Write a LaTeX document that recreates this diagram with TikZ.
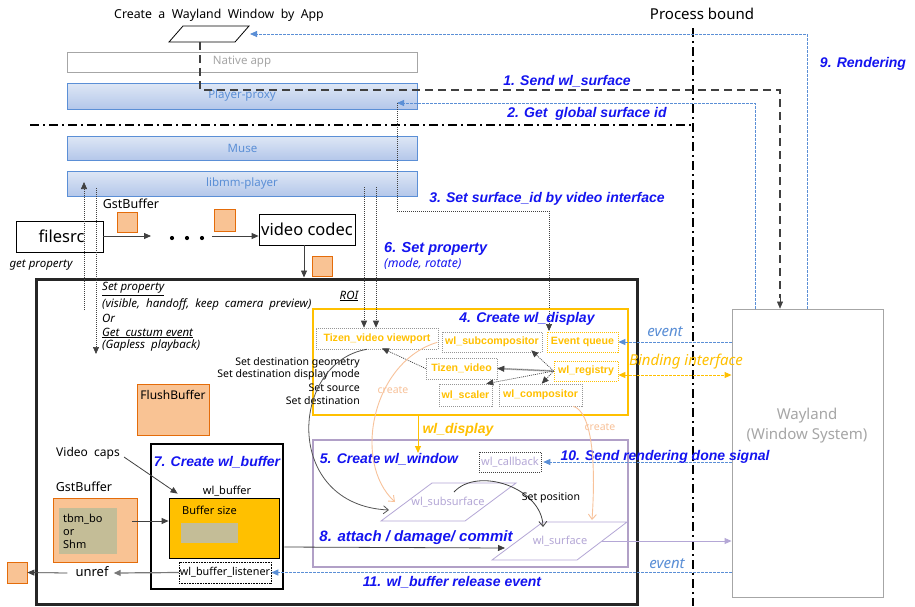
\documentclass[tikz,border=0pt]{standalone}
\usepackage{fontspec}
\setmainfont{Noto Sans}
\newfontfamily\lblf{Liberation Sans}
\usetikzlibrary{arrows.meta,calc}
\definecolor{blueline}{HTML}{5B8FD6}
\definecolor{bluetxt}{HTML}{1414F0}
\definecolor{ylw}{HTML}{FFC000}
\definecolor{peach}{HTML}{F9C394}
\definecolor{peachline}{HTML}{F8C29A}
\definecolor{orng}{HTML}{E46C0A}
\definecolor{purp}{HTML}{B1A0C7}
\definecolor{purptxt}{HTML}{B4A7D6}
\definecolor{tanc}{HTML}{C4BD97}
\definecolor{grayb}{HTML}{A6A6A6}
\definecolor{dgray}{HTML}{404040}
\definecolor{mgray}{HTML}{969696}
\definecolor{lgray}{HTML}{BEBEBE}
\definecolor{cgray}{HTML}{555555}
\definecolor{ugray}{HTML}{787878}
\definecolor{boxblk}{HTML}{262626}
\definecolor{projtop}{HTML}{DEE7F5}
\definecolor{projbot}{HTML}{B4C7EA}
\tikzset{
  fs/.style={font=\fontsize{#1}{#1}\selectfont},
  tip/.style={-{Triangle[length=7pt,width=6pt]}},
  layer/.style={draw=blueline, line width=0.9pt, top color=projtop, bottom color=projbot,
    text=blueline, fs=11.5, inner sep=0, minimum width=350, minimum height=25},
  sq/.style={draw=orng, fill=peach, minimum width=20, minimum height=20, inner sep=0, line width=0.8pt},
  plain/.style={draw=black, line width=0.8pt, inner sep=0},
  gbox/.style={draw=mgray, dash pattern=on 1pt off 1pt, line width=0.6pt,
    inner sep=0, text=ylw, font=\lblf\fontsize{10.6}{10.6}\selectfont\bfseries},
  obox/.style={draw=ylw, dash pattern=on 1pt off 1pt, line width=0.7pt, inner sep=0, text=ylw,
    font=\lblf\fontsize{10.6}{10.6}\selectfont\bfseries},
  lbl/.style={text=bluetxt, font=\lblf\fontsize{14}{14}\selectfont\bfseries\itshape, inner sep=0},
  bdash/.style={draw=dgray, line width=2pt, dash pattern=on 8pt off 5pt},
  bluedash/.style={draw=blueline, line width=0.8pt, dash pattern=on 2.5pt off 1.5pt},
  gdot/.style={draw=dgray, line width=0.7pt, dash pattern=on 1pt off 1pt},
  procline/.style={draw=black, line width=2.5pt, dash pattern=on 9pt off 4pt on 2pt off 4pt},
  small/.style={fs=10.5, inner sep=0},
  itl/.style={font=\fontsize{11.5}{11.5}\selectfont\itshape, inner sep=0},
  evt/.style={text=blueline, font=\fontsize{15}{15}\selectfont\itshape, inner sep=0},
}
\begin{document}
\begin{tikzpicture}[x=1pt,y=-1pt]
\useasboundingbox (0,0) rectangle (915,606);
\fill[white] (0,0) rectangle (915,606);

% process boundary
\draw[procline] (30,125) -- (693,125);
\draw[procline] (693,28) -- (693,606);
\node[fs=15, inner sep=0] (pb) at (702,14) {Process bound};

% top app window
\node[fs=12.3, inner sep=0] (title) at (219,15) {Create~ a~ Wayland~ Window~ by~ App};
\draw[line width=0.8pt] (169,42) -- (183,26) -- (249,26) -- (235,42) -- cycle;
\coordinate (parbot) at (200,42);
\coordinate (parR) at (250,34);

% layers
\node[draw=grayb, line width=0.9pt, fill=white, text=grayb, fs=11.5, inner sep=0, minimum width=350, minimum height=20] (native) at (242,62) {Native app};
\node[layer, minimum height=26] (proxy) at (242,96) {Player-proxy};
\node[layer, minimum height=24] (muse) at (242.5,148) {Muse};
\node[layer] (libmm) at (242,183.5) {libmm-player};
\coordinate (ppsid) at (397,103);

% wayland
\node[draw=grayb, line width=0.9pt, minimum width=151, minimum height=288, inner sep=0] (wayland) at (807.5,453) {};
\node[text=grayb, align=center, inner sep=0, font=\fontsize{15}{20}\selectfont] (wltxt) at (807,426) {Wayland\\(Window System)};

% top connectors
\draw[bdash] (parbot) -- (200,90) -- (780,90) -- (780,298);
\draw[dgray, tip] (780,298) -- (780,0 |- wayland.north);
\draw[bluedash, tip] (807,0 |- wayland.north) -- (807,34) -- (parR);
\draw[bluedash, tip] (755,0 |- wayland.north) -- (755,103) -- (ppsid);
\draw[gdot, tip] (ppsid) -- (397,211) -- (549,211) -- (549,331);
\node[lbl] (l9) at (863,64) {9. Rendering};
\node[lbl] (l1) at (567,81) {1. Send wl\_surface};
\node[lbl] (l2) at (587,114) {2. Get~ global surface id};
\node[lbl] (l3) at (547,199) {3. Set surface\_id by video interface};
\node[lbl, font=\lblf\fontsize{14.5}{14.5}\selectfont\bfseries\itshape, anchor=west] (l6) at (384,249) {6. Set property};
\node[text=bluetxt, font=\fontsize{12.3}{12.3}\selectfont\itshape, inner sep=0, anchor=west] (l6b) at (384,264) {(mode, rotate)};

% pipeline
\node[fs=12.5, inner sep=0] (gst1) at (131,204) {GstBuffer};
\node[plain, minimum width=87, minimum height=31, fs=16.5] (filesrc) at (59.5,236.5) {~filesrc};
\node[sq] (sq1) at (127,222) {};
\node[sq, minimum width=21, minimum height=22] (sq2) at (224.5,220) {};
\node[plain, minimum width=96, minimum height=31, fs=16.5] (codec) at (307,229.5) {video codec};
\node[sq] (sq3) at (322,266) {};
\coordinate (dotsL) at (151,236);
\coordinate (dotsR) at (212,236);
\fill (172,238) circle (2.1) (187,238) circle (2.1) (202,238) circle (2.1);
\draw[dgray, line width=0.8pt, tip] (filesrc.east |- dotsL) -- (dotsL);
\draw[dgray, line width=0.8pt, tip] (dotsR) -- (codec.west |- dotsR);
\node[itl] (getp) at (41,265) {get property};

% big box
\node[draw=boxblk, line width=3pt, minimum width=601, minimum height=325, inner sep=0] (big) at (336.5,441.5) {};
\draw[dgray, line width=0.8pt, tip] (304,0 |- codec.south) -- (304,0 |- big.north);

% left dotted arrows
\draw[gdot, tip] (84,310) -- (84,182);
\draw[gdot, tip] (96,188) -- (96,354);

\node[itl, anchor=west] (sp1) at (102,289) {\underline{Set property}};
\node[itl, anchor=west] (sp2) at (102,304) {(visible,~ handoff,~ keep~ camera~ preview)};
\node[itl, anchor=west] (sp3) at (102,318) {Or};
\node[itl, anchor=west] (sp4) at (102,333) {\underline{Get~ custum event}};
\node[itl, anchor=west] (sp5) at (102,346) {(Gapless~ playback)};
\node[itl] (roi) at (349,296) {\underline{ROI}};

% wl_display box
\node[draw=ylw, line width=2pt, minimum width=315, minimum height=106, inner sep=0] (ybox) at (470.5,362) {};
\node[lbl] (l4) at (527,319) {4. Create wl\_display};
\node[gbox, minimum width=122, minimum height=21] (viewport) at (377,338.5) {Tizen\_video viewport};
\node[gbox, minimum width=100, minimum height=20] (subcomp) at (492,342) {wl\_subcompositor};
\node[obox, minimum width=71, minimum height=20] (evq) at (582.5,342) {Event queue};
\node[gbox, minimum width=71, minimum height=21] (tizen) at (461.5,368.5) {Tizen\_video};
\node[obox, minimum width=64, minimum height=20] (registry) at (586,371) {wl\_registry};
\node[gbox, minimum width=53, minimum height=22] (scaler) at (465.5,395) {wl\_scaler};
\node[gbox, minimum width=83, minimum height=22] (compositor) at (540.5,395) {wl\_compositor};

\draw[gdot, tip] (364,187) -- (364,0 |- viewport.north);
\draw[gdot, tip] (376,187) -- (376,0 |- viewport.north);

\draw[gdot, tip] (registry.west) -- ($(subcomp.south east)+(-11,-2)$);
\draw[lgray, line width=1.8pt] (registry.west) -- (tizen.east);
\draw[gdot, tip] (registry.west) -- (tizen.east);
\draw[gdot, tip] (registry.west) -- ($(scaler.north east)+(-6,0)$);
\draw[gdot, tip] (registry.west) -- ($(compositor.north west)+(43,0)$);
\draw[gdot, tip] (tizen.west) -- ($(viewport.south)+(5,-1)$);

\node[small, anchor=east] (sd1) at (360,363) {Set destination geometry};
\node[small, anchor=east] (sd2) at (360,375) {Set destination display mode};
\node[small, anchor=east] (sd3) at (360,388) {Set source};
\node[small, anchor=east] (sd4) at (360,401) {Set destination};

% event / binding
\draw[bluedash, tip] (wayland.west |- evq.east) -- (evq.east);
\node[evt] (ev1) at (665,332) {event};
\draw[ylw, line width=0.9pt, dash pattern=on 2.5pt off 1.5pt, {Triangle[length=7pt,width=6pt]}-{Triangle[length=7pt,width=6pt]}] ($(registry.east)+(0,4)$) -- (wayland.west |- 0,375);
\node[text=ylw, font=\fontsize{15}{15}\selectfont\itshape, inner sep=0] (bind) at (686,362) {Binding interface};

% wl_window box
\node[draw=purp, line width=2pt, minimum width=315, minimum height=127, inner sep=0] (pbox) at (470.5,503.5) {};
\coordinate (wdtip) at (418,453);
\draw[ylw, line width=1pt, tip] (418,0 |- ybox.south) -- (wdtip);
\node[text=ylw, font=\lblf\fontsize{14}{14}\selectfont\bfseries\itshape, inner sep=0] (wdl) at (458,430) {wl\_display};
\node[lbl] (l5) at (389,459) {5. Create wl\_window};
\node[draw=dgray, dash pattern=on 1pt off 1pt, line width=0.6pt, minimum width=62, minimum height=20, inner sep=0, text=purptxt, fs=11] (callback) at (510,462) {wl\_callback};
\draw[bluedash, tip] (wayland.west |- callback.east) -- ($(callback.east)+(2,0)$);
\node[lbl] (l10) at (665,457) {10. Send rendering done signal};

\draw[purptxt, line width=0.8pt] (381,521) -- (432,483) -- (516,483) -- (465,521) -- cycle;
\node[text=purptxt, fs=11, inner sep=0] (subsurf) at (448,502) {wl\_subsurface};
\draw[purptxt, line width=0.8pt] (492,560) -- (543,522) -- (627,522) -- (577,560) -- cycle;
\node[text=purptxt, fs=11, inner sep=0] (surf) at (560,541) {wl\_surface};
\coordinate (subsL) at (389,510);
\coordinate (subsT) at (395,502);
\coordinate (surfT) at (543,527);
\coordinate (surfC) at (592,520);
\coordinate (surfL) at (505,548);
\coordinate (surfR) at (602,541);

% curves
\draw[cgray, line width=0.8pt, -{Straight Barb[length=5pt,width=8pt]}] ($(viewport.south)+(-10,0)$) .. controls (290,362) and (282,505) .. (subsL);
\draw[peachline, line width=0.9pt, -{Straight Barb[length=5pt,width=8pt]}] ($(viewport.south east)+(-1,-7)$) .. controls (372,362) and (352,462) .. (subsT);
\node[text=peachline, fs=10.5, inner sep=0] (cr1) at (393,390) {create};
\draw[peachline, line width=0.9pt, -{Straight Barb[length=5pt,width=8pt]}] ($(compositor.south east)+(-9,0)$) .. controls (592,412) and (596,462) .. (surfC);
\node[text=peachline, fs=10.5, inner sep=0] (cr2) at (600,427) {create};
\draw[dgray, line width=0.8pt, -{Straight Barb[length=5pt,width=8pt]}] (454,492) .. controls (478,466) and (542,488) .. (surfT);
\node[small] (setpos) at (551,498) {Set position};

\draw[purptxt, line width=0.9pt, tip] (surfR) -- (wayland.west |- surfR);
\node[lbl, font=\lblf\fontsize{15}{15}\selectfont\bfseries\itshape] (l8) at (416,538) {8. attach / damage/ commit};

% wl_buffer area
\node[draw=orng, fill=peach, line width=0.8pt, minimum width=72, minimum height=51, inner sep=0] (flush) at (173,409.5) {};
\node[fs=12, inner sep=0] (flusht) at (173,395) {FlushBuffer};
\node[fs=12, inner sep=0] (vcaps) at (88,453) {Video~ caps};
\node[fs=12.5, inner sep=0] (gst2) at (84,487) {GstBuffer};
\node[draw=orng, fill=peach, line width=0.8pt, minimum width=84, minimum height=64, inner sep=0] (gstbox) at (95,530) {};
\node[fill=tanc, minimum width=58, minimum height=46, inner sep=0] (tanbo) at (88,531) {};
\node[align=left, anchor=west, inner sep=0, font=\fontsize{11}{13}\selectfont] (tbm) at (63,531) {tbm\_bo\\or\\Shm};
\node[draw=black, line width=2.5pt, minimum width=132, minimum height=145, inner sep=0] (bbox) at (217,516.5) {};
\node[lbl] (l7) at (217,462) {7. Create wl\_buffer};
\node[small, fs=11] (wlbuf) at (227,491) {wl\_buffer};
\node[fill=ylw, draw=black, line width=0.8pt, minimum width=110, minimum height=60, inner sep=0] (ybuf) at (224,528) {};
\node[small, fs=11, anchor=west] (bsize) at (182,510) {Buffer size};
\node[fill=tanc, minimum width=57, minimum height=20, inner sep=0] (tanbuf) at (209.5,533) {};
\node[draw=black, dash pattern=on 1pt off 0.6pt, line width=0.5pt, minimum width=92, minimum height=21, inner sep=0, fs=10.8] (listener) at (225,572.5) {wl\_buffer\_listener};
\node[fs=13, inner sep=0] (unref) at (92,572) {unref};
\node[sq, minimum height=21] (sq4) at (17,572.5) {};
\coordinate (vcapsE) at (124,457);
\coordinate (gstE) at (132,521);
\draw[dgray, line width=0.8pt, tip] (vcapsE) -- ($(ybuf.north west)+(9,-4)$);
\draw[dgray, line width=0.8pt, tip] (gstE) -- (ybuf.west |- gstE);
\draw[dgray, line width=0.8pt, tip] (bbox.east |- 0,547) -- (surfL);
\draw[bluedash, tip] (wayland.west |- listener.east) -- (listener.east);
\node[evt] (ev2) at (667,564) {event};
\node[lbl] (l11) at (452,582) {11. wl\_buffer release event};
\draw[ugray, line width=1.2pt, tip] (listener.west) -- ($(unref.east)+(5,1)$);
\draw[dgray, line width=0.8pt, tip] ($(unref.west)+(-8,1)$) -- (sq4.east);
\end{tikzpicture}
\end{document}
